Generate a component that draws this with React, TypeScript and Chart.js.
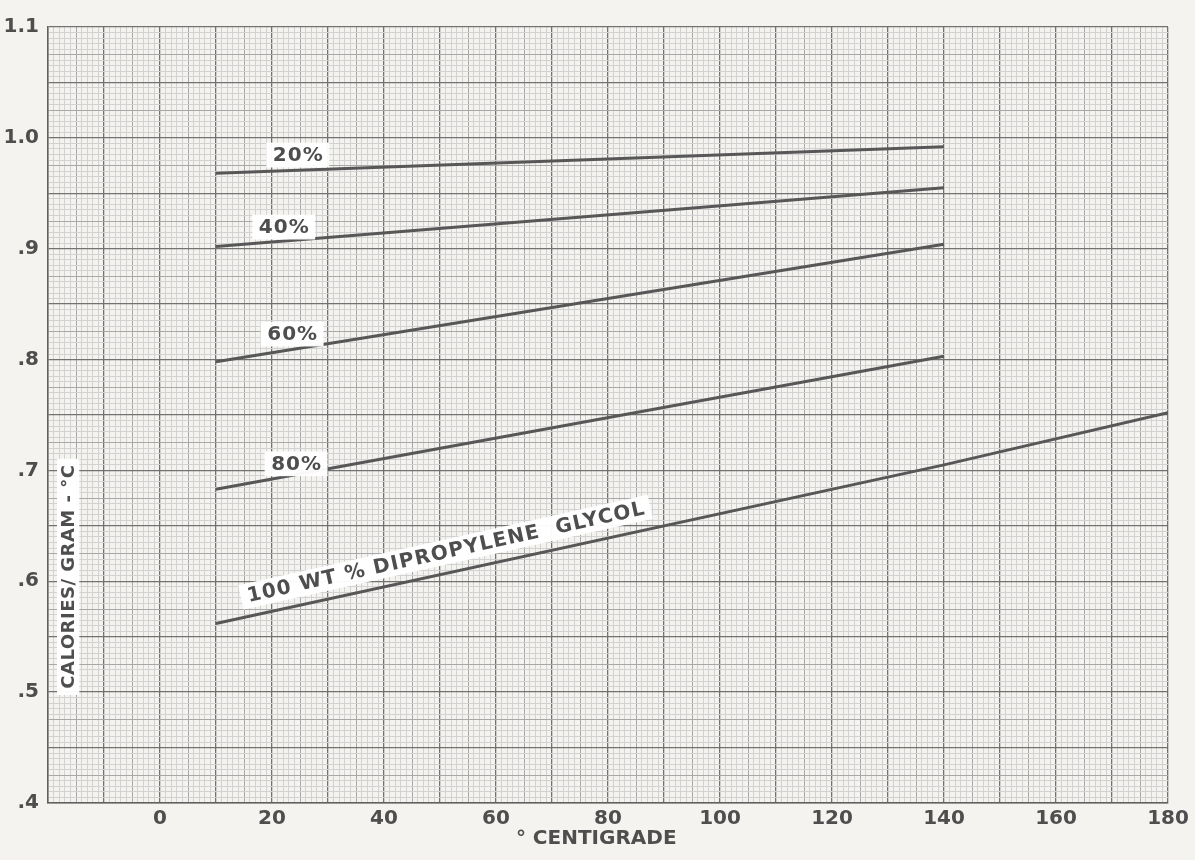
import React, { useEffect, useRef } from "react";
import { Chart, registerables } from "chart.js";

Chart.register(...registerables);

// ---- data ----
const tempsShort = [10, 140];
const tempsLong = [10, 140, 180];
const cp20 = [0.968, 0.992];
const cp40 = [0.902, 0.955];
const cp60 = [0.798, 0.904];
const cp80 = [0.683, 0.803];
const cp100 = [0.562, 0.705, 0.752];
const seriesNames = ["20%", "40%", "60%", "80%", "100 WT % DIPROPYLENE  GLYCOL"];
const xTickValues = [0, 20, 40, 60, 80, 100, 120, 140, 160, 180];
const yTickValues = [0.4, 0.5, 0.6, 0.7, 0.8, 0.9, 1.0, 1.1];
const yTickText = [".4", ".5", ".6", ".7", ".8", ".9", "1.0", "1.1"];
const xTitle = "° CENTIGRADE";
const yTitle = "CALORIES/ GRAM - °C";

// ---- label anchors (data coordinates) ----
const seriesLabelAnchors = [
  { x: 24.6, y: 0.9845, follow: false },
  { x: 22.1, y: 0.9195, follow: false },
  { x: 23.6, y: 0.823, follow: false },
  { x: 24.3, y: 0.706, follow: false },
  { x: 51.0, y: 0.6264, follow: true },
];
const yTitleAnchor = { x: -16.4, y: 0.604 };
const xTitleAnchorX = 77.9;

const FONT = "'DejaVu Sans', 'Liberation Sans', sans-serif";
const INK = "#4e4e4e";
const PAPER = "#f5f3ef";

const toPoints = (xs: number[], ys: number[]) => xs.map((x, i) => ({ x, y: ys[i] }));

function gridColorX(v: number) {
  if (v % 10 === 0) return "#727272";
  if (v % 5 === 0) return "#a8a8a8";
  return "#d2d2d2";
}
function gridColorY(v: number) {
  const k = Math.round(v * 1000);
  if (k % 50 === 0) return "#727272";
  if (k % 25 === 0) return "#a8a8a8";
  return "#d2d2d2";
}

const bgPlugin = {
  id: "paperBg",
  beforeDraw(chart: any) {
    const { ctx, width, height } = chart;
    ctx.save();
    ctx.fillStyle = PAPER;
    ctx.fillRect(0, 0, width, height);
    ctx.restore();
  },
};

const labelPlugin = {
  id: "seriesLabels",
  afterDatasetsDraw(chart: any) {
    const { ctx } = chart;
    const xs = chart.scales.x;
    const ys = chart.scales.y;
    const drawBox = (
      text: string,
      px: number,
      py: number,
      angle: number,
      size: number,
      spacing: number,
      box: boolean
    ) => {
      ctx.save();
      ctx.translate(px, py);
      ctx.rotate(angle);
      ctx.font = `bold ${size}px ${FONT}`;
      (ctx as any).letterSpacing = `${spacing}px`;
      const w = ctx.measureText(text).width;
      if (box) {
        ctx.fillStyle = "rgba(255,255,255,0.96)";
        ctx.fillRect(-w / 2 - 6, -size * 0.62, w + 12, size * 1.24);
      }
      ctx.fillStyle = INK;
      ctx.textAlign = "center";
      ctx.textBaseline = "middle";
      ctx.fillText(text, spacing / 2, 1);
      ctx.restore();
    };
    seriesLabelAnchors.forEach((a, i) => {
      let angle = 0;
      if (a.follow) {
        const d = chart.data.datasets[i].data;
        const p0x = xs.getPixelForValue(d[0].x);
        const p0y = ys.getPixelForValue(d[0].y);
        const p1x = xs.getPixelForValue(d[d.length - 1].x);
        const p1y = ys.getPixelForValue(d[d.length - 1].y);
        angle = Math.atan2(p1y - p0y, p1x - p0x);
      }
      drawBox(seriesNames[i], xs.getPixelForValue(a.x), ys.getPixelForValue(a.y), angle, 20, a.follow ? 1.2 : 1, true);
    });
    drawBox(yTitle, xs.getPixelForValue(yTitleAnchor.x), ys.getPixelForValue(yTitleAnchor.y), -Math.PI / 2, 18, 0.5, true);
  },
  afterDraw(chart: any) {
    const { ctx } = chart;
    const xs = chart.scales.x;
    ctx.save();
    ctx.font = `bold 20px ${FONT}`;
    ctx.fillStyle = INK;
    ctx.textAlign = "center";
    ctx.textBaseline = "middle";
    ctx.fillText(xTitle, xs.getPixelForValue(xTitleAnchorX), xs.bottom - 21);
    ctx.restore();
  },
};

export default function App() {
  const ref = useRef<HTMLCanvasElement | null>(null);
  useEffect(() => {
    if (!ref.current) return;
    const chart = new Chart(ref.current, {
      type: "scatter",
      data: {
        datasets: [
          { label: seriesNames[0], data: toPoints(tempsShort, cp20) },
          { label: seriesNames[1], data: toPoints(tempsShort, cp40) },
          { label: seriesNames[2], data: toPoints(tempsShort, cp60) },
          { label: seriesNames[3], data: toPoints(tempsShort, cp80) },
          { label: seriesNames[4], data: toPoints(tempsLong, cp100) },
        ].map((d) => ({
          ...d,
          showLine: true,
          borderColor: "#575757",
          borderWidth: 3,
          pointRadius: 0,
          fill: false,
        })),
      },
      plugins: [bgPlugin, labelPlugin],
      options: {
        animation: false,
        responsive: false,
        devicePixelRatio: 1,
        layout: { padding: { top: 27, right: 27, left: 0, bottom: 0 } },
        plugins: { legend: { display: false }, tooltip: { enabled: false } },
        scales: {
          x: {
            type: "linear",
            min: -20,
            max: 180,
            afterFit: (s: any) => {
              s.height = 57;
            },
            ticks: {
              stepSize: 1,
              autoSkip: false,
              maxRotation: 0,
              padding: 4,
              color: INK,
              font: { family: FONT, size: 20, weight: "bold" },
              callback: (v: any) => (xTickValues.includes(Number(v)) ? String(v) : ""),
            },
            grid: {
              drawTicks: false,
              color: (c: any) => gridColorX(c.tick.value),
              lineWidth: (c: any) => (c.tick.value % 10 === 0 ? 1.3 : 1),
            },
            border: { display: true, color: "#606060", width: 1.5 },
            title: { display: false },
          },
          y: {
            type: "linear",
            min: 0.4,
            max: 1.1,
            afterFit: (s: any) => {
              s.width = 48;
            },
            ticks: {
              stepSize: 0.005,
              autoSkip: false,
              padding: 9,
              color: INK,
              font: { family: FONT, size: 20, weight: "bold" },
              callback: (v: any) => {
                const k = Math.round(Number(v) * 1000);
                const idx = yTickValues.findIndex((t) => Math.round(t * 1000) === k);
                return idx >= 0 ? yTickText[idx] : "";
              },
            },
            grid: {
              drawTicks: false,
              color: (c: any) => gridColorY(c.tick.value),
              lineWidth: (c: any) => (Math.round(c.tick.value * 1000) % 50 === 0 ? 1.3 : 1),
            },
            border: { display: true, color: "#606060", width: 1.5 },
          },
        },
      },
    } as any);
    return () => chart.destroy();
  }, []);
  return (
    <div style={{ position: "absolute", left: 0, top: 0, width: 1195, height: 860, background: PAPER }}>
      <canvas ref={ref} width={1195} height={860} style={{ display: "block" }} />
    </div>
  );
}
